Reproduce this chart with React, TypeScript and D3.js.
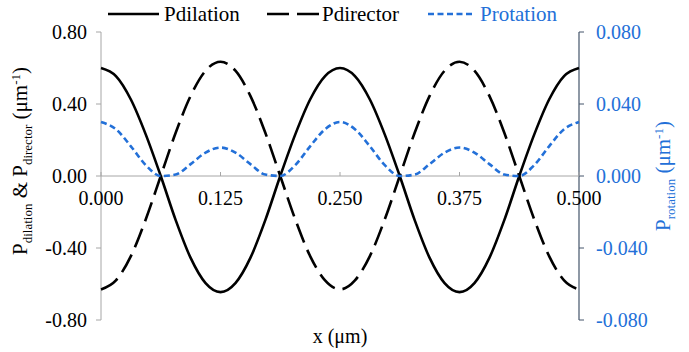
import React from "react";
import * as d3 from "d3";

const xValues = [
  0, 0.015625, 0.03125, 0.046875, 0.0625, 0.078125, 0.09375, 0.109375, 0.125,
  0.140625, 0.15625, 0.171875, 0.1875, 0.203125, 0.21875, 0.234375, 0.25,
  0.265625, 0.28125, 0.296875, 0.3125, 0.328125, 0.34375, 0.359375, 0.375,
  0.390625, 0.40625, 0.421875, 0.4375, 0.453125, 0.46875, 0.484375, 0.5,
];

const pDilation = [
  0.6, 0.555, 0.425, 0.23, 0.0, -0.245, -0.455, -0.595, -0.645, -0.595, -0.455,
  -0.245, 0.0, 0.23, 0.425, 0.555, 0.6, 0.555, 0.425, 0.23, 0.0, -0.245, -0.455,
  -0.595, -0.645, -0.595, -0.455, -0.245, 0.0, 0.23, 0.425, 0.555, 0.6,
];

const pDirector = [
  -0.63, -0.58, -0.445, -0.24, 0.0, 0.24, 0.445, 0.585, 0.635, 0.585, 0.445,
  0.24, 0.0, -0.24, -0.445, -0.58, -0.63, -0.58, -0.445, -0.24, 0.0, 0.24, 0.445,
  0.585, 0.635, 0.585, 0.445, 0.24, 0.0, -0.24, -0.445, -0.58, -0.63,
];

const pRotation = [
  0.03, 0.026, 0.0165, 0.006, 0.0, 0.0008, 0.0066, 0.013, 0.0158, 0.013, 0.0066,
  0.0008, 0.0, 0.006, 0.0165, 0.026, 0.03, 0.026, 0.0165, 0.006, 0.0, 0.0008,
  0.0066, 0.013, 0.0158, 0.013, 0.0066, 0.0008, 0.0, 0.006, 0.0165, 0.026, 0.03,
];

const xTicks = [0, 0.125, 0.25, 0.375, 0.5];
const xTickLabels = ["0.000", "0.125", "0.250", "0.375", "0.500"];
const leftTicks = [0.8, 0.4, 0, -0.4, -0.8];
const leftTickLabels = ["0.80", "0.40", "0.00", "-0.40", "-0.80"];
const rightTicks = [0.08, 0.04, 0, -0.04, -0.08];
const rightTickLabels = ["0.080", "0.040", "0.000", "-0.040", "-0.080"];

const W = 689;
const H = 352;
const L = 101;
const R = 579;
const T = 32;
const B = 320;

const BLUE = "#2370d8";
const FONT = "'Liberation Serif', 'Times New Roman', Times, serif";
const ff = { fontFamily: FONT };

export default function App() {
  const x = d3.scaleLinear().domain([0, 0.5]).range([L, R]);
  const yL = d3.scaleLinear().domain([-0.8, 0.8]).range([B, T]);
  const yR = d3.scaleLinear().domain([-0.08, 0.08]).range([B, T]);

  const lineL = d3
    .line<number>()
    .x((_, i) => x(xValues[i]))
    .y((d) => yL(d))
    .curve(d3.curveMonotoneX);
  const lineR = d3
    .line<number>()
    .x((_, i) => x(xValues[i]))
    .y((d) => yR(d))
    .curve(d3.curveMonotoneX);

  const y0 = yL(0);

  return (
    <svg
      width={W}
      height={H}
      style={{ position: "absolute", left: 0, top: 0, background: "#fff", fontFamily: FONT }}
    >
      <rect x={0} y={0} width={W} height={H} fill="#fff" />

      {/* left axis */}
      <line x1={L} x2={L} y1={T} y2={B} stroke="#a6a6a6" strokeWidth={1} />
      {leftTicks.map((t, i) => (
        <g key={"lt" + i}>
          <line x1={L - 5} x2={L} y1={yL(t)} y2={yL(t)} stroke="#a6a6a6" />
          <text
            x={L - 14}
            y={yL(t)}
            dy="0.35em"
            textAnchor="end"
            fontSize={20}
            fill="#000"
            style={ff}
          >
            {leftTickLabels[i]}
          </text>
        </g>
      ))}

      {/* right axis */}
      <line x1={R} x2={R} y1={T} y2={B} stroke="#44546a" strokeWidth={1.2} />
      {rightTicks.map((t, i) => (
        <g key={"rt" + i}>
          <line x1={R} x2={R + 5} y1={yR(t)} y2={yR(t)} stroke="#44546a" />
          <text
            x={R + 17}
            y={yR(t)}
            dy="0.35em"
            textAnchor="start"
            fontSize={20}
            fill={BLUE}
            style={ff}
          >
            {rightTickLabels[i]}
          </text>
        </g>
      ))}

      {/* x axis */}
      <line x1={L} x2={R} y1={y0} y2={y0} stroke="#a6a6a6" strokeWidth={1} />
      {xTicks.map((t, i) => (
        <g key={"xt" + i}>
          <line x1={x(t)} x2={x(t)} y1={y0 - 4} y2={y0} stroke="#a6a6a6" />
          <text
            x={x(t)}
            y={y0 + 29}
            textAnchor="middle"
            fontSize={20}
            fill="#000"
            style={ff}
          >
            {xTickLabels[i]}
          </text>
        </g>
      ))}

      {/* series */}
      <path d={lineL(pDilation) || ""} fill="none" stroke="#000" strokeWidth={2.6} />
      <path
        d={lineL(pDirector) || ""}
        fill="none"
        stroke="#000"
        strokeWidth={2.6}
        strokeDasharray="20 8"
      />
      <path
        d={lineR(pRotation) || ""}
        fill="none"
        stroke={BLUE}
        strokeWidth={2.6}
        strokeDasharray="6 3.5"
      />

      {/* legend */}
      <line x1={108} x2={159} y1={14} y2={14} stroke="#000" strokeWidth={2.6} />
      <text x={164} y={21} fontSize={21} fill="#000" style={ff}>
        Pdilation
      </text>
      <line
        x1={267}
        x2={319}
        y1={14}
        y2={14}
        stroke="#000"
        strokeWidth={2.6}
        strokeDasharray="22 8"
      />
      <text x={322} y={21} fontSize={21} fill="#000" style={ff}>
        Pdirector
      </text>
      <line
        x1={428}
        x2={475}
        y1={14}
        y2={14}
        stroke={BLUE}
        strokeWidth={2.6}
        strokeDasharray="6 3.5"
      />
      <text x={480} y={21} fontSize={21} fill={BLUE} style={ff}>
        Protation
      </text>

      {/* left axis title */}
      <text
        transform={`translate(27, ${161}) rotate(-90)`}
        textAnchor="middle"
        fontSize={21}
        fill="#000"
        style={ff}
      >
        <tspan>P</tspan>
        <tspan fontSize={13} dy={5}>
          dilation
        </tspan>
        <tspan dy={-5}> &amp; P</tspan>
        <tspan fontSize={13} dy={5}>
          director
        </tspan>
        <tspan dy={-5}> (μm</tspan>
        <tspan fontSize={13} dy={-7}>
          -1
        </tspan>
        <tspan dy={7}>)</tspan>
      </text>

      {/* right axis title */}
      <text
        transform={`translate(670, ${176}) rotate(-90)`}
        textAnchor="middle"
        fontSize={21}
        fill={BLUE}
        style={ff}
      >
        <tspan>P</tspan>
        <tspan fontSize={13} dy={5}>
          rotation
        </tspan>
        <tspan dy={-5}> (μm</tspan>
        <tspan fontSize={13} dy={-7}>
          -1
        </tspan>
        <tspan dy={7}>)</tspan>
      </text>

      {/* x axis title */}
      <text x={340} y={343} textAnchor="middle" fontSize={20} fill="#000" style={ff}>
        x (μm)
      </text>
    </svg>
  );
}
